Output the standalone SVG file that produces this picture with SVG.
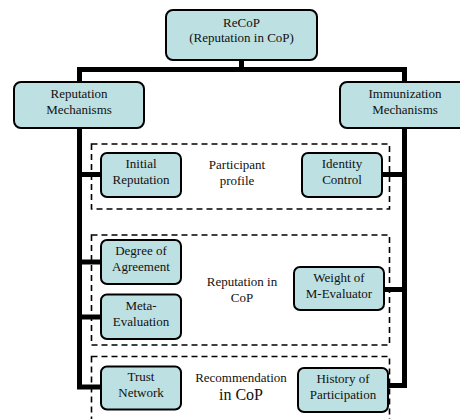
<svg xmlns="http://www.w3.org/2000/svg" width="460" height="419" viewBox="0 0 460 419">
<style>
.node rect{fill:#bde0e2;stroke:#000;stroke-width:2}
text{font-family:"Liberation Serif","Times New Roman",serif;font-size:13px;fill:#111;text-anchor:middle}
.big{font-size:16px}
.dash{fill:none;stroke:#000;stroke-width:1.6;stroke-dasharray:6 4}
.conn path{fill:none;stroke:#000;stroke-width:5;stroke-linejoin:miter}
</style>
<rect width="460" height="419" fill="#fff"/>
<g id="groups">
<rect class="dash" x="91.5" y="144" width="298" height="65"/>
<rect class="dash" x="91.5" y="235" width="298" height="110"/>
<rect class="dash" x="91.5" y="356.5" width="298" height="80"/>
<text x="237" y="169">Participant</text>
<text x="237" y="185">profile</text>
<text x="242" y="286">Reputation in</text>
<text x="242" y="302">CoP</text>
<text x="241" y="382">Recommendation</text>
<text class="big" x="241" y="400">in CoP</text>
</g>
<g id="connectors" class="conn">
<path d="M241.5,60 V69.5"/>
<path d="M79.5,84 V69.5 H404.5 V84"/>
<path d="M79.5,126 V387 H102"/>
<path d="M404.5,126 V385.5 H387"/>
<path d="M79.5,174.5 H102"/>
<path d="M79.5,262 H102"/>
<path d="M79.5,317 H102"/>
<path d="M404.5,174.5 H381"/>
<path d="M404.5,289.5 H383"/>
</g>
<g id="root" class="node"><rect x="166" y="10" width="151" height="50" rx="7"/><text x="241.5" y="27">ReCoP</text><text x="241.5" y="42">(Reputation in CoP)</text></g>
<g id="rep-mech" class="node"><rect x="14" y="82" width="130" height="46" rx="7"/><text x="79" y="98">Reputation</text><text x="79" y="114">Mechanisms</text></g>
<g id="imm-mech" class="node"><rect x="340" y="82" width="130" height="46" rx="7"/><text x="405" y="98">Immunization</text><text x="405" y="114">Mechanisms</text></g>
<g id="initial-rep" class="node"><rect x="101" y="153" width="80" height="44" rx="6"/><text x="141" y="168">Initial</text><text x="141" y="184">Reputation</text></g>
<g id="identity" class="node"><rect x="302" y="153" width="80" height="44" rx="6"/><text x="342" y="168">Identity</text><text x="342" y="184">Control</text></g>
<g id="degree" class="node"><rect x="101" y="240" width="80" height="44" rx="6"/><text x="141" y="255">Degree of</text><text x="141" y="271">Agreement</text></g>
<g id="meta" class="node"><rect x="101" y="294.5" width="80" height="44.5" rx="6"/><text x="141" y="310">Meta-</text><text x="141" y="326">Evaluation</text></g>
<g id="weight" class="node"><rect x="294" y="267" width="90" height="43" rx="6"/><text x="339" y="282">Weight of</text><text x="339" y="298">M-Evaluator</text></g>
<g id="trust" class="node"><rect x="101" y="366.5" width="80" height="43" rx="6"/><text x="141" y="381">Trust</text><text x="141" y="397">Network</text></g>
<g id="history" class="node"><rect x="298" y="368" width="90" height="44" rx="6"/><text x="343" y="383">History of</text><text x="343" y="399">Participation</text></g>
</svg>
